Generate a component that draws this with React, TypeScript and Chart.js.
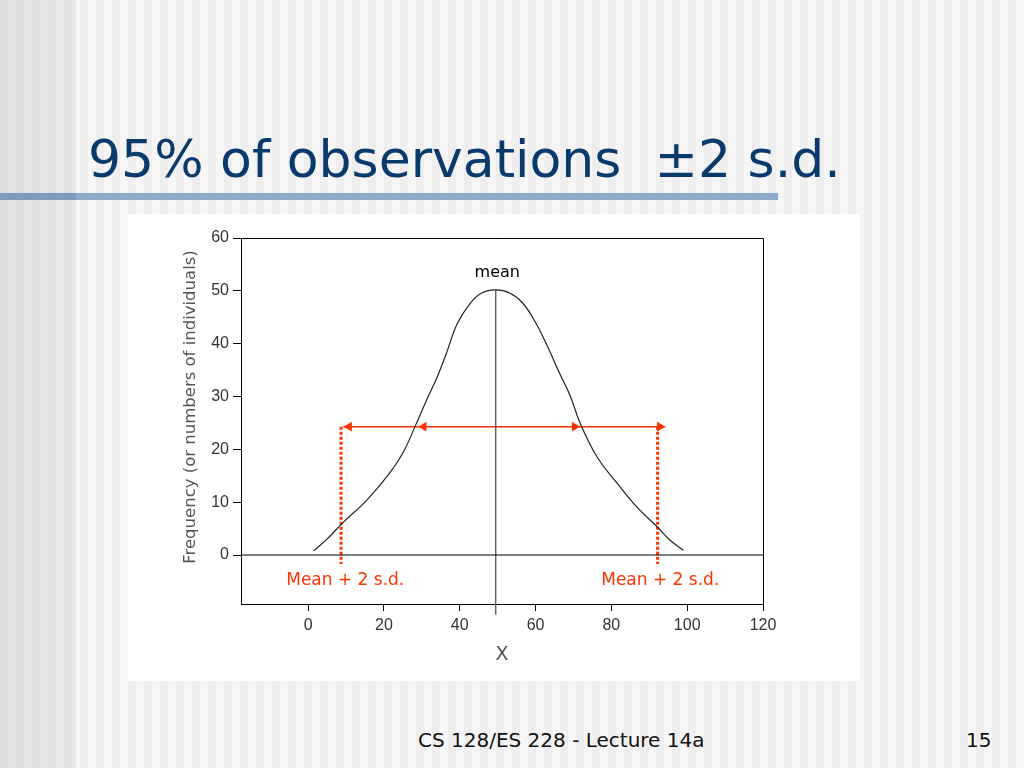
import React, { useEffect, useRef } from "react";
import { Chart, registerables } from "chart.js";

Chart.register(...registerables);

// ---- data ----
const curveX = [1.5, 5, 9, 15.5, 21.5, 25, 28.2, 31.3, 34, 36.6, 39.2, 42.7, 45.8, 49.5, 53.2, 56.6, 60, 63.2, 66.2, 69.1, 71.8, 76.2, 81.5, 86.7, 92, 95.5, 99];
const curveY = [0.8, 3, 6, 10.4, 15.5, 19.3, 24.3, 29.4, 33.6, 38.4, 43.6, 47.6, 49.6, 50.2, 49.6, 47.7, 44, 39.4, 34.6, 30.2, 24.9, 18.6, 13.6, 9.1, 5.4, 2.8, 0.9];

const yTickValues = [0, 10, 20, 30, 40, 50, 60];
const xTickValues = [0, 20, 40, 60, 80, 100, 120];

const X_MIN = -17.7;
const X_MAX = 120;
const Y_MIN = -9.27;
const Y_MAX = 60;

const meanX = 49.5;
const meanTop = 50.2;
const meanBottom = -11.3;

const arrowY = 24.3;
const arrowStart = 9.3;
const arrowEnd = 94.2;
const headX = [10.8, 30.5, 70.3, 92.8];
const headRotation = [-90, -90, 90, 90];

const sdX = [8.7, 92.2];
const sdTop = 24.3;
const sdBottom = -1.7;

const sdLabelText = "Mean + 2 s.d.";
const sdLabelX = [9.8, 92.9];
const sdLabelY = -4.8;
const meanLabelText = "mean";
const meanLabelX = 49.9;
const meanLabelY = 53.5;

const yTitle = "Frequency (or numbers of individuals)";
const xTitle = "X";

const RED = "#ff3300";
const TICK_FONT = "'Liberation Sans', Arial, sans-serif";
const LABEL_FONT = "'DejaVu Sans', Verdana, sans-serif";

const annotationPlugin = {
  id: "annotations",
  afterDraw(chart: any) {
    const { ctx, chartArea, scales } = chart;
    const xs = scales.x;
    const ys = scales.y;
    ctx.save();
    // top and right frame
    ctx.strokeStyle = "#000";
    ctx.lineWidth = 1;
    ctx.beginPath();
    ctx.moveTo(chartArea.left, chartArea.top + 0.5);
    ctx.lineTo(chartArea.right + 0.5, chartArea.top + 0.5);
    ctx.lineTo(chartArea.right + 0.5, chartArea.bottom);
    ctx.stroke();

    // labels
    ctx.textAlign = "center";
    ctx.textBaseline = "middle";
    ctx.fillStyle = "#000";
    ctx.font = `16px ${LABEL_FONT}`;
    ctx.fillText(meanLabelText, xs.getPixelForValue(meanLabelX), ys.getPixelForValue(meanLabelY));
    ctx.fillStyle = RED;
    ctx.font = `17px ${LABEL_FONT}`;
    sdLabelX.forEach((v) => {
      ctx.fillText(sdLabelText, xs.getPixelForValue(v), ys.getPixelForValue(sdLabelY));
    });

    // y axis title
    ctx.fillStyle = "#555";
    ctx.font = `16.5px ${LABEL_FONT}`;
    ctx.translate(63, (chartArea.top + chartArea.bottom) / 2 - 14);
    ctx.rotate(-Math.PI / 2);
    ctx.fillText(yTitle, 0, 0);
    ctx.restore();
  },
};

function ChartBox() {
  const ref = useRef<HTMLCanvasElement | null>(null);
  useEffect(() => {
    if (!ref.current) return;
    const line = (data: any[], color: string, width: number, extra: any = {}) => ({
      data,
      showLine: true,
      borderColor: color,
      backgroundColor: color,
      borderWidth: width,
      pointRadius: 0,
      ...extra,
    });
    const chart = new Chart(ref.current, {
      type: "scatter",
      data: {
        datasets: [
          line([{ x: X_MIN, y: 0 }, { x: X_MAX, y: 0 }], "#000", 1),
          line([{ x: meanX, y: meanTop }, { x: meanX, y: meanBottom }], "#555", 1.3, { clip: false }),
          line(curveX.map((x, i) => ({ x, y: curveY[i] })), "#222", 1.2, { tension: 0.4 }),
          ...sdX.map((x) =>
            line([{ x, y: sdTop }, { x, y: sdBottom }], RED, 3, { borderDash: [3, 2] })
          ),
          line([{ x: arrowStart, y: arrowY }, { x: arrowEnd, y: arrowY }], RED, 1.5),
          {
            data: headX.map((x) => ({ x, y: arrowY })),
            pointStyle: "triangle",
            rotation: headRotation,
            pointRadius: 5.5,
            borderWidth: 0,
            backgroundColor: RED,
            borderColor: RED,
          },
        ],
      },
      options: {
        animation: false,
        responsive: false,
        devicePixelRatio: 1,
        events: [],
        layout: { padding: { top: 24, right: 97, bottom: 0, left: 0 } },
        plugins: { legend: { display: false }, tooltip: { enabled: false }, title: { display: false } },
        scales: {
          x: {
            type: "linear",
            min: X_MIN,
            max: X_MAX,
            afterBuildTicks: (s: any) => {
              s.ticks = xTickValues.map((v) => ({ value: v }));
            },
            afterFit: (s: any) => {
              s.height = 77;
            },
            grid: { drawOnChartArea: false, drawTicks: true, tickLength: 7, color: "#000" },
            border: { display: true, color: "#000", width: 1 },
            ticks: { color: "#333", font: { family: TICK_FONT, size: 16 }, padding: 5, maxRotation: 0 },
            title: {
              display: true,
              text: xTitle,
              color: "#555",
              font: { family: LABEL_FONT, size: 19 },
              padding: { top: 0, bottom: 15 },
            },
          },
          y: {
            type: "linear",
            min: Y_MIN,
            max: Y_MAX,
            afterBuildTicks: (s: any) => {
              s.ticks = yTickValues.map((v) => ({ value: v }));
            },
            afterFit: (s: any) => {
              s.width = 113;
            },
            grid: { drawOnChartArea: false, drawTicks: true, tickLength: 8, color: "#000" },
            border: { display: true, color: "#000", width: 1 },
            ticks: { color: "#333", font: { family: TICK_FONT, size: 16 }, padding: 4 },
            title: { display: false },
          },
        },
      },
      plugins: [annotationPlugin],
    } as any);
    return () => chart.destroy();
  }, []);
  return (
    <canvas
      ref={ref}
      width={732}
      height={467}
      style={{ position: "absolute", left: 128, top: 214, width: 732, height: 467, background: "#fff" }}
    />
  );
}

export default function App() {
  return (
    <div
      style={{
        position: "absolute",
        left: 0,
        top: 0,
        width: 1024,
        height: 768,
        overflow: "hidden",
        background:
          "linear-gradient(to right, rgba(0,0,0,0.08) 0px, rgba(0,0,0,0.05) 76px, rgba(0,0,0,0) 76px), repeating-linear-gradient(to right, #eeeeee 0px, #eeeeee 8px, #f6f6f6 8px, #f6f6f6 16px)",
      }}
    >
      <div
        style={{
          position: "absolute",
          left: 88,
          top: 133,
          fontFamily: LABEL_FONT,
          fontSize: 52,
          lineHeight: "52px",
          color: "#0a3a6c",
          whiteSpace: "pre",
        }}
      >
        {"95% of observations  ±2 s.d."}
      </div>
      <div
        style={{
          position: "absolute",
          left: 0,
          top: 193,
          width: 778,
          height: 7,
          background: "linear-gradient(to right, #7c9bbd 0px, #7c9bbd 76px, #8eaacb 76px)",
        }}
      />
      <ChartBox />
      <div
        style={{
          position: "absolute",
          left: 418,
          top: 730,
          fontFamily: LABEL_FONT,
          fontSize: 20,
          lineHeight: "20px",
          color: "#111",
          whiteSpace: "pre",
        }}
      >
        {"CS 128/ES 228 - Lecture 14a"}
      </div>
      <div
        style={{
          position: "absolute",
          left: 966,
          top: 730,
          fontFamily: LABEL_FONT,
          fontSize: 20,
          lineHeight: "20px",
          color: "#111",
        }}
      >
        15
      </div>
    </div>
  );
}
